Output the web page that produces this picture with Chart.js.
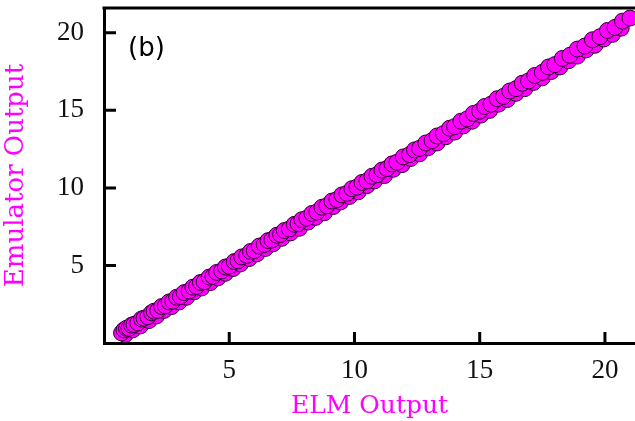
<!DOCTYPE html>
<html>
<head>
<meta charset="utf-8">
<script src="https://cdn.jsdelivr.net/npm/chart.js@4/dist/chart.umd.min.js"></script>
<style>
  html, body { margin: 0; padding: 0; background: #fff; }
  #wrap { width: 635px; height: 421px; }
</style>
</head>
<body>
<div id="wrap"><canvas id="scatterChart" width="635" height="421"></canvas></div>
<script>
// ELM output (x) against emulator output (y).
// first block: runs sitting a little under the diagonal (drawn first, underneath)
const elmOutput = [
  0.85, 1.15, 1.45, 1.8, 2.1, 2.4, 2.7, 3.0, 3.3, 3.6, 3.9, 4.25, 4.55, 4.85, 5.15,
  5.45, 5.8, 6.1, 6.45, 6.75, 7.1, 7.45, 7.8, 8.15, 8.45, 8.8, 9.15, 9.45, 9.8, 10.15,
  10.5, 10.8, 11.2, 11.55, 11.9, 12.25, 12.6, 12.95, 13.3, 13.65, 14.0, 14.35, 14.7,
  15.05, 15.4, 15.75, 16.1, 16.45, 16.8, 17.15, 17.5, 17.85, 18.2, 18.55, 18.9, 19.25,
  19.6, 19.95, 20.3, 20.65,
  0.7, 0.8, 0.9, 1.0, 1.1, 1.2, 1.35, 1.5, 1.6, 1.75, 1.9, 2.0, 2.15, 2.3, 2.45,
  2.6, 2.75, 2.9, 3.05, 3.2, 3.4, 3.55, 3.7, 3.85, 4.0, 4.2, 4.35, 4.5, 4.7, 4.85,
  5.0, 5.2, 5.35, 5.5, 5.7, 5.85, 6.0, 6.2, 6.4, 6.55, 6.7, 6.9, 7.05, 7.2, 7.4,
  7.6, 7.75, 7.9, 8.1, 8.3, 8.5, 8.7, 8.9, 9.1, 9.3, 9.5, 9.7, 9.9, 10.1, 10.3,
  10.5, 10.7, 10.9, 11.1, 11.3, 11.5, 11.7, 11.95, 12.2, 12.4, 12.6, 12.85, 13.1,
  13.3, 13.55, 13.8, 14.0, 14.25, 14.5, 14.75, 15.0, 15.2, 15.45, 15.7, 15.95,
  16.2, 16.45, 16.7, 16.95, 17.2, 17.5, 17.75, 18.0, 18.3, 18.6, 18.9, 19.2,
  19.5, 19.8, 20.1, 20.4, 20.7, 21.0
];
const emulatorOutput = [
  0.55, 0.85, 1.1, 1.45, 1.75, 2.1, 2.35, 2.65, 2.95, 3.3, 3.55, 3.9, 4.2, 4.5, 4.8,
  5.1, 5.45, 5.75, 6.1, 6.4, 6.75, 7.1, 7.4, 7.8, 8.1, 8.4, 8.8, 9.1, 9.45, 9.75,
  10.15, 10.45, 10.8, 11.2, 11.5, 11.9, 12.2, 12.6, 12.9, 13.3, 13.6, 14.0, 14.3,
  14.7, 15.0, 15.4, 15.7, 16.1, 16.4, 16.8, 17.1, 17.5, 17.8, 18.2, 18.5, 18.9,
  19.2, 19.6, 19.9, 20.3,
  0.65, 0.85, 0.95, 0.95, 1.15, 1.2, 1.3, 1.55, 1.6, 1.7, 1.95, 2.05, 2.1, 2.35, 2.4,
  2.65, 2.7, 2.95, 3.0, 3.25, 3.35, 3.6, 3.65, 3.9, 3.95, 4.25, 4.3, 4.55, 4.65, 4.9,
  4.95, 5.25, 5.3, 5.55, 5.65, 5.9, 5.95, 6.25, 6.35, 6.6, 6.65, 6.95, 7.0, 7.25, 7.35,
  7.65, 7.7, 7.95, 8.05, 8.35, 8.45, 8.75, 8.85, 9.15, 9.25, 9.55, 9.65, 9.95, 10.05, 10.35,
  10.45, 10.75, 10.85, 11.15, 11.25, 11.55, 11.65, 12.0, 12.15, 12.45, 12.55, 12.9, 13.05,
  13.35, 13.5, 13.85, 13.95, 14.3, 14.45, 14.8, 14.95, 15.25, 15.4, 15.75, 15.9,
  16.25, 16.4, 16.75, 16.9, 17.25, 17.45, 17.8, 17.95, 18.35, 18.55, 18.95, 19.15,
  19.55, 19.75, 20.15, 20.35, 20.75, 20.95
];
const xTickValues = [5, 10, 15, 20];
const yTickValues = [5, 10, 15, 20];

const points = elmOutput.map((x, i) => ({ x: x, y: emulatorOutput[i] }));

// border on top plus inward tick marks, like the original plot
const frameAndTicks = {
  id: "frameAndTicks",
  afterDraw(chart) {
    const ctx = chart.ctx;
    const area = chart.chartArea;
    const xs = chart.scales.x;
    const ys = chart.scales.y;
    ctx.save();
    ctx.strokeStyle = "#000";
    ctx.lineWidth = 3;
    ctx.beginPath();
    ctx.moveTo(area.left - 1.5, area.top);
    ctx.lineTo(area.right, area.top);
    xTickValues.forEach(v => {
      const px = xs.getPixelForValue(v);
      ctx.moveTo(px, area.bottom);
      ctx.lineTo(px, area.bottom - 11);
    });
    yTickValues.forEach(v => {
      const py = ys.getPixelForValue(v);
      ctx.moveTo(area.left, py);
      ctx.lineTo(area.left + 12, py);
    });
    ctx.stroke();
    ctx.restore();
  }
};

function noPadding(scale) {
  scale.paddingLeft = 0;
  scale.paddingRight = 0;
  scale.paddingTop = 0;
  scale.paddingBottom = 0;
}

const ctx = document.getElementById("scatterChart").getContext("2d");

new Chart(ctx, {
  type: "scatter",
  data: {
    datasets: [
      {
        label: "Emulator vs ELM",
        data: points,
        backgroundColor: "#ff00ff",
        borderColor: "#2a002a",
        borderWidth: 1,
        pointRadius: 8,
        clip: false,
      },
    ],
  },
  options: {
    responsive: false,
    animation: false,
    layout: { autoPadding: false, padding: { top: 8, right: 0, bottom: 0, left: 0 } },
    plugins: {
      legend: { display: false },
      tooltip: { enabled: false },
    },
    scales: {
      x: {
        type: "linear",
        min: 0,
        max: 21.2,
        afterBuildTicks: scale => {
          scale.ticks = xTickValues.map(v => ({ value: v }));
        },
        afterFit: scale => { scale.height = 78; noPadding(scale); },
        grid: { display: false, drawTicks: false },
        border: { display: true, color: "#000", width: 3 },
        ticks: {
          color: "#111",
          padding: 12,
          maxRotation: 0,
          font: { family: "Liberation Serif", size: 27 },
        },
        title: {
          display: true,
          text: "ELM Output",
          color: "#ff00ff",
          padding: { top: 0, bottom: 0 },
          font: { family: "DejaVu Serif", size: 25 },
        },
      },
      y: {
        type: "linear",
        min: 0,
        max: 21.6,
        afterBuildTicks: scale => {
          scale.ticks = yTickValues.map(v => ({ value: v }));
        },
        afterFit: scale => { scale.width = 104; noPadding(scale); },
        grid: { display: false, drawTicks: false },
        border: { display: true, color: "#000", width: 3 },
        ticks: {
          color: "#111",
          padding: 20,
          font: { family: "Liberation Serif", size: 27 },
        },
        title: {
          display: true,
          text: "Emulator Output",
          color: "#ff00ff",
          padding: { top: 1, bottom: 0 },
          font: { family: "DejaVu Serif", size: 26 },
        },
      },
    },
  },
  plugins: [frameAndTicks, {
    id: "panelLabel",
    afterDraw(chart) {
      const c = chart.ctx;
      c.save();
      c.fillStyle = "#000";
      c.font = "26px 'DejaVu Sans'";
      c.textBaseline = "middle";
      c.fillText("(b)", chart.chartArea.left + 24, chart.chartArea.top + 41);
      c.restore();
    }
  }],
});
</script>
</body>
</html>
